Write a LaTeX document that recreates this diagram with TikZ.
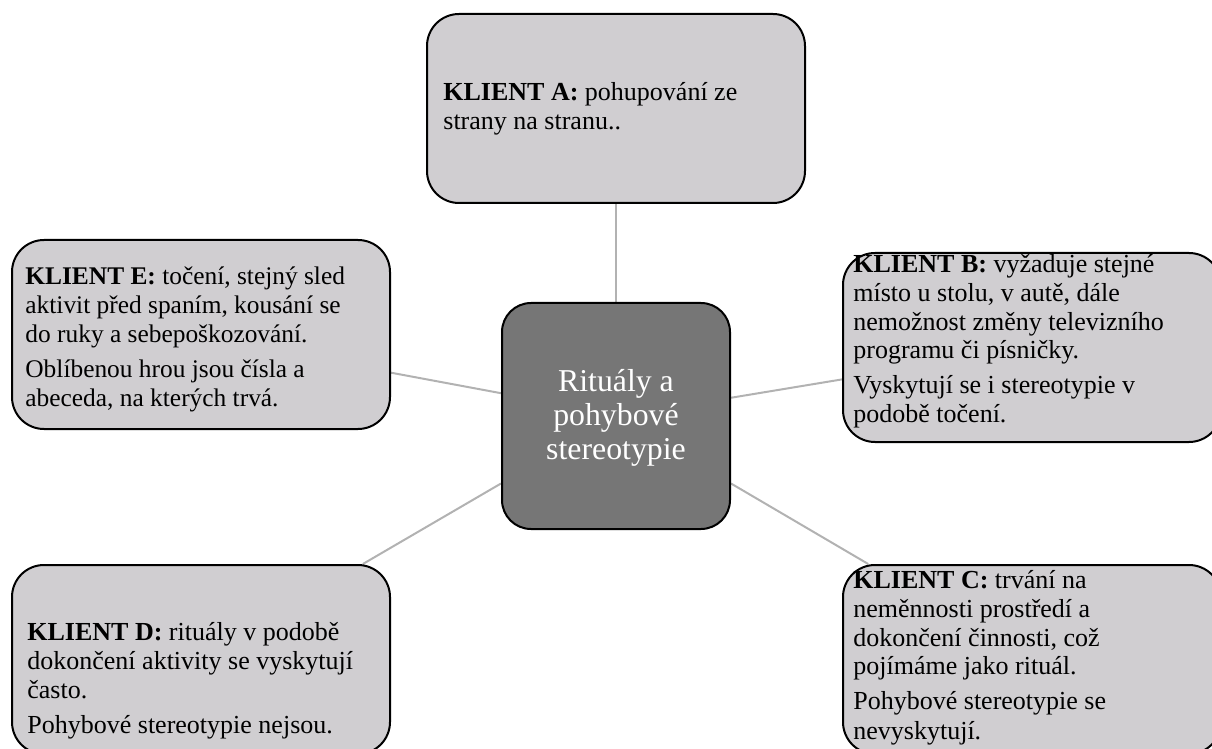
\documentclass[tikz,border=0pt]{standalone}
\usepackage{fontspec}
\setmainfont{Liberation Serif}
\usetikzlibrary{calc,backgrounds}

\definecolor{boxfill}{RGB}{208,206,209}
\definecolor{hubfill}{RGB}{118,118,118}
\definecolor{linkgray}{RGB}{178,178,178}

% text block of one client: first baseline is the node's base
\newcommand{\clienttext}[2][13pt]{%
  \begin{minipage}[t]{230pt}%
    \fontsize{#1}{14.5pt}\selectfont
    \setlength{\parskip}{3pt}\raggedright #2%
  \end{minipage}}

\begin{document}
\begin{tikzpicture}[x=0.5pt,y=-0.5pt,
  box/.style={draw=black, line width=1pt, fill=boxfill,
    rounded corners=16pt, minimum width=189pt, minimum height=94.5pt,
    inner sep=0pt},
  hub/.style={draw=black, line width=1pt, fill=hubfill,
    rounded corners=14.5pt, minimum width=114pt, minimum height=113pt,
    inner sep=0pt},
  txt/.style={anchor=base west, inner sep=0pt},
  hubtxt/.style={anchor=base, inner sep=0pt, text=white},
  link/.style={draw=linkgray, line width=1pt}]

\useasboundingbox (0,0) rectangle (1212,749);
\clip (0,0) rectangle (1212,749);

% central topic
\node[hub] (ctr) at (616,416) {};
\node[hubtxt] (ctrtext) at (616,392) {%
  \begin{minipage}[t]{200pt}\centering
  \fontsize{15.9pt}{16.9pt}\selectfont
  Rituály a\\ pohybové\\ stereotypie\end{minipage}};

% client boxes
\node[box] (A) at (616,108.5) {};
\node[box] (B) at (1032,347.5) {};
\node[box] (C) at (1032,659.5) {};
\node[box] (D) at (201,659.5) {};
\node[box] (E) at (201,334.5) {};

\node[txt] (Atext) at (443,101) {\clienttext{%
  \textbf{KLIENT A:} pohupování ze\\
  strany na stranu..}};

\node[txt] (Btext) at (853,272) {\clienttext{%
  \textbf{KLIENT B:} vyžaduje stejné\\
  místo u stolu, v autě, dále\\
  nemožnost změny televizního\\
  programu či písničky.\par
  Vyskytují se i stereotypie v\\
  podobě točení.}};

\node[txt] (Ctext) at (853,588) {\clienttext{%
  \textbf{KLIENT C:} trvání na\\
  neměnnosti prostředí a\\
  dokončení činnosti, což\\
  pojímáme jako rituál.\par
  Pohybové stereotypie se\\
  nevyskytují.}};

\node[txt] (Dtext) at (27,640) {\clienttext{%
  \textbf{KLIENT D:} rituály v podobě\\
  dokončení aktivity se vyskytují\\
  často.\par
  Pohybové stereotypie nejsou.}};

\node[txt] (Etext) at (25,285) {\clienttext[12.7pt]{%
  \textbf{KLIENT E:} točení, stejný sled\\
  aktivit před spaním, kousání se\\
  do ruky a sebepoškozování.\par
  Oblíbenou hrou jsou čísla a\\
  abeceda, na kterých trvá.}};

% connectors from the central topic to each client
\begin{pgfonlayer}{background}
  \path[link] (A.south) -- (ctr.north);
  \path[link] ($(ctr.north east)!0.42!(ctr.south east)$) --
              ($(B.north west)!0.667!(B.south west)$);
  \path[link] ($(ctr.north east)!0.796!(ctr.south east)$) --
              ($(C.north west)!0.069!(C.north east)$);
  \path[link] ($(ctr.north west)!0.796!(ctr.south west)$) --
              ($(D.north west)!0.926!(D.north east)$);
  \path[link] ($(ctr.north west)!0.40!(ctr.south west)$) --
              ($(E.north east)!0.70!(E.south east)$);
\end{pgfonlayer}
\end{tikzpicture}
\end{document}
